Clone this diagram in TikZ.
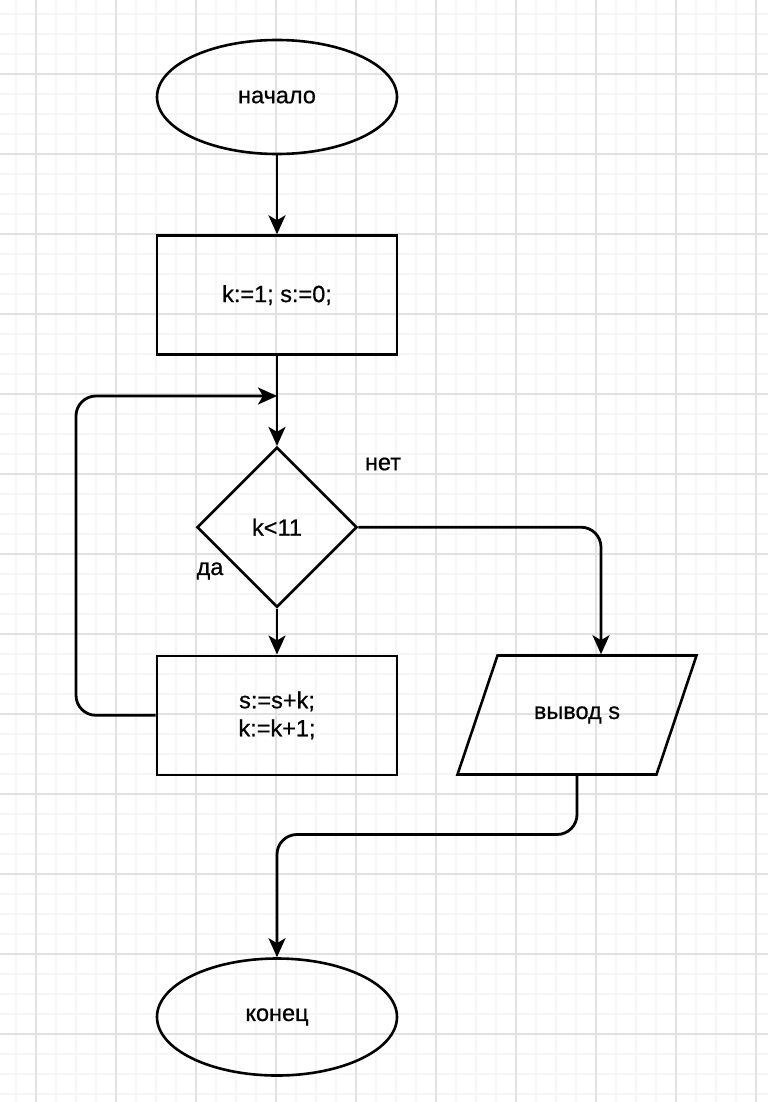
\documentclass[tikz,border=0pt]{standalone}
\usepackage{fontspec}
\setmainfont{Liberation Sans}[FakeBold=0.6]
\usepackage{xcolor}
\definecolor{GridMinor}{HTML}{F6F6F6}
\definecolor{GridMajor}{HTML}{E2E2E2}
\usepackage{tikz}
\usetikzlibrary{arrows.meta,positioning,calc,shapes.geometric}

\begin{document}
\begin{tikzpicture}[x=1pt,y=-1pt,
  font=\fontsize{23.5}{28}\selectfont,
  term/.style={draw,ellipse,line width=2.6pt,minimum width=240pt,minimum height=114pt,inner sep=0pt},
  box/.style={draw,line width=2.6pt,minimum width=240pt,minimum height=119pt,align=center,inner sep=0pt},
  cond/.style={draw,diamond,aspect=1,line width=2.6pt,minimum width=160pt,minimum height=160pt,inner sep=0pt},
  io/.style={minimum width=199pt,minimum height=119pt,inner sep=0pt,outer sep=0pt},
  lbl/.style={inner sep=0pt},
  arrow/.style={-{Stealth[length=19pt,width=17pt,inset=5pt]},line width=2.8pt,rounded corners=20pt}]
% background grid
\useasboundingbox (0,0) rectangle (768,1102);
\fill[white] (0,0) rectangle (768,1102);
\foreach \x in {16,36,...,756} \draw[GridMinor,line width=1.2pt] (\x,0) -- (\x,1102);
\foreach \y in {14,34,...,1094} \draw[GridMinor,line width=1.2pt] (0,\y) -- (768,\y);
\foreach \x in {36,116,...,756} \draw[GridMajor,line width=1.2pt] (\x,0) -- (\x,1102);
\foreach \y in {74,154,...,1034} \draw[GridMajor,line width=1.2pt] (0,\y) -- (768,\y);
% blocks
\node[term] (start) at (277,97) {начало};
\node[box, below=79pt of start] (init) {k:=1; s:=0;};
\node[cond, below=90pt of init] (check) {k<11};
\node[box, below=46pt of check] (body) {s:=s+k;\\k:=k+1;};
\node[io] (print) at (577,715) {вывод s};
\draw[line width=2.6pt,line join=miter] ($(print.south west)+(-20,0)$) -- ($(print.north west)+(20,0)$)
  -- ($(print.north east)+(20,0)$) -- ($(print.south east)+(-20,0)$) -- cycle;
\node[term, minimum height=117pt] (stop) at (277,1017) {конец};
\node[lbl] (no) at (383,464) {нет};
\node[lbl] (yes) at (210,571) {да};
\coordinate (merge) at (277,396);
\coordinate (loop) at (76,396);
% connectors
\draw[arrow] (body.west) -| (loop) -- (merge);
\draw[arrow] (start) -- (init);
\draw[arrow] (init) -- (check);
\draw[arrow] (check) -- (body);
\draw[arrow] (check.east) -| ($(print.north)+(24,-1.3)$);
\draw[arrow] (print.south) -- ++(0,60) -| (stop.north);
\end{tikzpicture}
\end{document}
